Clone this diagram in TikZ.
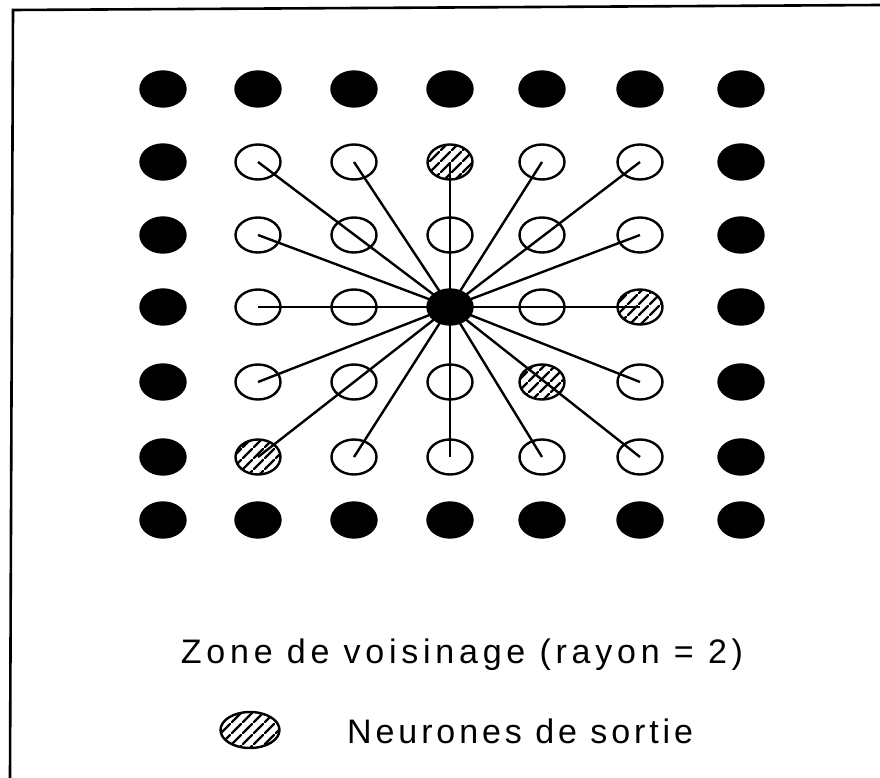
\documentclass[tikz,border=0pt]{standalone}
\usepackage{fontspec}
\newfontfamily\lblfont[LetterSpace=14]{Liberation Sans}
\newfontfamily\lblfontb[LetterSpace=11.5]{Liberation Sans}
\usetikzlibrary{shapes.geometric,patterns.meta}
\tikzdeclarepattern{
  name=hatch,
  type=uncolored,
  bounding box={(0pt,0pt) and (11pt,11pt)},
  tile size={(11pt,11pt)},
  code={\draw[line width=2.4pt] (-1pt,-1pt) -- (12pt,12pt);}
}
\tikzset{
  cell/.style={ellipse, inner sep=0pt, minimum width=45pt, minimum height=35pt, line width=2.4pt},
  blk/.style={cell, draw=black, fill=black},
  opn/.style={cell, draw=black},
  hat/.style={cell, draw=black, pattern={hatch}, pattern color=black},
  conn/.style={line width=2.4pt},
  frame/.style={line width=2.6pt},
  lbl/.style={inner sep=0pt, font=\lblfont\fontsize{34}{40}\selectfont},
  lblb/.style={inner sep=0pt, font=\lblfontb\fontsize{34}{40}\selectfont}
}
\begin{document}
\begin{tikzpicture}[x=1pt,y=-1pt]
\useasboundingbox (0,0) rectangle (880,778);
\draw[frame] (880,5) -- (13,10) -- (10,778);
% grid
\foreach \r/\y in {1/89,2/162,3/235,4/307,5/382,6/457,7/520}{
  \foreach \c/\x in {1/163,2/258,3/354,4/450,5/542,6/640,7/741}{
    \pgfmathtruncatemacro{\outer}{(\r==1)||(\r==7)||(\c==1)||(\c==7)||((\r==4)&&(\c==4))}
    \pgfmathtruncatemacro{\hatched}{((\r==1)&&(\c==5))||((\r==2)&&(\c==4))||((\r==4)&&(\c==6))||((\r==5)&&(\c==5))||((\r==6)&&(\c==2))}
    \ifnum\outer=1
      \node[blk] (n-\r-\c) at (\x,\y) {};
    \else\ifnum\hatched=1
      \node[hat] (n-\r-\c) at (\x,\y) {};
    \else
      \node[opn] (n-\r-\c) at (\x,\y) {};
    \fi\fi
  }
}
% connectors from centre to ring of radius 2
\foreach \t in {2-2,2-3,2-4,2-5,2-6,3-2,3-6,4-2,4-6,5-2,5-6,6-2,6-3,6-4,6-5,6-6}{
  \draw[conn] (n-4-4.center) -- (n-\t.center);
}
\node[lbl, anchor=base] (t1) at (462,663) {Zone de voisinage (rayon = 2)};
\node[hat, minimum width=59pt, minimum height=36pt] (lg) at (250,730) {};
\node[lblb, anchor=base west] (t2) at (347,743) {Neurones de sortie};
\end{tikzpicture}
\end{document}
